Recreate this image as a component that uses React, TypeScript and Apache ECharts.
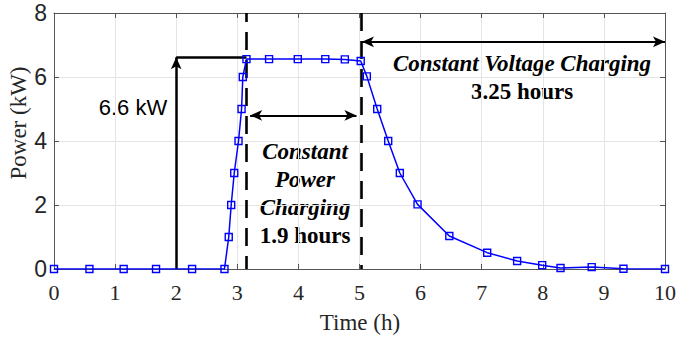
import React, { useEffect, useRef } from "react";
import * as echarts from "echarts";

// Measured charging curve
const timeH = [0, 0.58, 1.14, 1.67, 2.26, 2.79, 2.86, 2.9, 2.95, 3.02, 3.07, 3.09, 3.15, 3.52, 3.99, 4.44, 4.76, 5.02, 5.12, 5.29, 5.47, 5.66, 5.95, 6.47, 7.09, 7.58, 7.99, 8.29, 8.8, 9.32, 10];
const powerKW = [0, 0, 0, 0, 0, 0, 1, 2, 3, 4, 5, 6, 6.56, 6.56, 6.56, 6.56, 6.55, 6.5, 6.02, 5, 4, 3, 2.02, 1.03, 0.51, 0.25, 0.12, 0.03, 0.06, 0.01, 0];

// Annotation values (data units)
const ratedArrowX = 2;
const ratedPower = 6.62;
const cpStart = 3.15;
const cvStart = 5.03;
const xEnd = 10;
const cpArrowY = 4.8;
const cvArrowY = 7.1;
const yTop = 8;

const SERIF = '"Liberation Serif", "Times New Roman", serif';
const SANS = '"Liberation Sans", Arial, sans-serif';

export default function App() {
  const ref = useRef<HTMLDivElement>(null);
  useEffect(() => {
    if (!ref.current) return;
    const chart = echarts.init(ref.current, null, { renderer: "svg" });
    const axisCol = "#555555";
    const gridCol = "#e4e4e4";
    const baseX = {
      type: "value" as const,
      min: 0,
      max: 10,
      interval: 1,
    };
    const baseY = {
      type: "value" as const,
      min: 0,
      max: 8,
      interval: 2,
    };
    const arrowHead = { symbol: "arrow", symbolSize: [8, 12] };
    const none = { symbol: "none" };
    chart.setOption({
      animation: false,
      grid: { left: 54, right: 11, top: 13, bottom: 70 },
      xAxis: [
        {
          ...baseX,
          position: "bottom",
          axisLine: { show: true, onZero: false, lineStyle: { color: axisCol, width: 1 } },
          axisTick: { show: true, inside: true, length: 5, lineStyle: { color: axisCol } },
          axisLabel: { fontFamily: SERIF, fontSize: 22, color: "#262626", margin: 12 },
          splitLine: { show: true, lineStyle: { color: gridCol, width: 1 } },
        },
        {
          ...baseX,
          position: "top",
          axisLine: { show: true, onZero: false, lineStyle: { color: axisCol, width: 1 } },
          axisTick: { show: true, inside: true, length: 5, lineStyle: { color: axisCol } },
          axisLabel: { show: false },
          splitLine: { show: false },
        },
      ],
      yAxis: [
        {
          ...baseY,
          position: "left",
          axisLine: { show: true, onZero: false, lineStyle: { color: axisCol, width: 1 } },
          axisTick: { show: true, inside: true, length: 5, lineStyle: { color: axisCol } },
          axisLabel: { fontFamily: SANS, fontSize: 23, color: "#262626", margin: 7 },
          splitLine: { show: true, lineStyle: { color: gridCol, width: 1 } },
        },
        {
          ...baseY,
          position: "right",
          axisLine: { show: true, onZero: false, lineStyle: { color: axisCol, width: 1 } },
          axisTick: { show: true, inside: true, length: 5, lineStyle: { color: axisCol } },
          axisLabel: { show: false },
          splitLine: { show: false },
        },
      ],
      series: [
        {
          type: "line",
          xAxisIndex: 0,
          yAxisIndex: 0,
          data: timeH.map((t, i) => [t, powerKW[i]]),
          symbol: "rect",
          symbolSize: 7,
          showAllSymbol: true,
          lineStyle: { color: "#0000ff", width: 1.5 },
          itemStyle: { color: "rgba(0,0,0,0)", borderColor: "#0000ff", borderWidth: 1.4 },
          z: 5,
          markLine: {
            silent: true,
            animation: false,
            label: { show: false },
            data: [
              [
                { coord: [cpStart, yTop], ...none, lineStyle: { color: "#000", width: 2.6, type: [18, 10], dashOffset: 9 } },
                { coord: [cpStart, 0], ...none },
              ],
              [
                { coord: [cvStart, yTop], ...none, lineStyle: { color: "#000", width: 2.6, type: [18, 10], dashOffset: 0 } },
                { coord: [cvStart, 0], ...none },
              ],
              [
                { coord: [ratedArrowX, 0], ...none, lineStyle: { color: "#000", width: 2.5, type: "solid" } },
                { coord: [ratedArrowX, ratedPower], ...arrowHead },
              ],
              [
                { coord: [ratedArrowX, ratedPower], ...none, lineStyle: { color: "#000", width: 2.5, type: "solid" } },
                { coord: [cpStart, ratedPower], ...none },
              ],
              [
                { coord: [cpStart + 0.06, cpArrowY], ...arrowHead, lineStyle: { color: "#000", width: 2, type: "solid" } },
                { coord: [cvStart - 0.08, cpArrowY], ...arrowHead },
              ],
              [
                { coord: [cvStart + 0.01, cvArrowY], ...arrowHead, lineStyle: { color: "#000", width: 2, type: "solid" } },
                { coord: [xEnd, cvArrowY], ...arrowHead },
              ],
            ],
          },
        },
      ],
      graphic: [
        {
          type: "text",
          x: 133,
          y: 107,
          style: { text: "6.6 kW", font: `22px ${SANS}`, fill: "#000", textAlign: "center", textVerticalAlign: "middle" },
        },
        {
          type: "text",
          x: 305,
          y: 179,
          style: {
            text: "Constant\nPower\nCharging",
            font: `italic bold 23px ${SERIF}`,
            lineHeight: 28,
            fill: "#000",
            textAlign: "center",
            textVerticalAlign: "middle",
          },
        },
        {
          type: "text",
          x: 305,
          y: 235,
          style: { text: "1.9 hours", font: `bold 23px ${SERIF}`, fill: "#000", textAlign: "center", textVerticalAlign: "middle" },
        },
        {
          type: "text",
          x: 522,
          y: 63,
          style: { text: "Constant Voltage Charging", font: `italic bold 23px ${SERIF}`, fill: "#000", textAlign: "center", textVerticalAlign: "middle" },
        },
        {
          type: "text",
          x: 522,
          y: 91,
          style: { text: "3.25 hours", font: `bold 23px ${SERIF}`, fill: "#000", textAlign: "center", textVerticalAlign: "middle" },
        },
        {
          type: "text",
          x: 360,
          y: 322,
          style: { text: "Time (h)", font: `23px ${SERIF}`, fill: "#262626", textAlign: "center", textVerticalAlign: "middle" },
        },
        {
          type: "text",
          x: 18,
          y: 123,
          rotation: Math.PI / 2,
          style: { text: "Power (kW)", font: `23px ${SERIF}`, fill: "#262626", textAlign: "center", textVerticalAlign: "middle" },
        },
      ],
    });
    return () => chart.dispose();
  }, []);
  return <div ref={ref} style={{ position: "fixed", left: 0, top: 0, width: 679, height: 339, background: "#fff" }} />;
}
